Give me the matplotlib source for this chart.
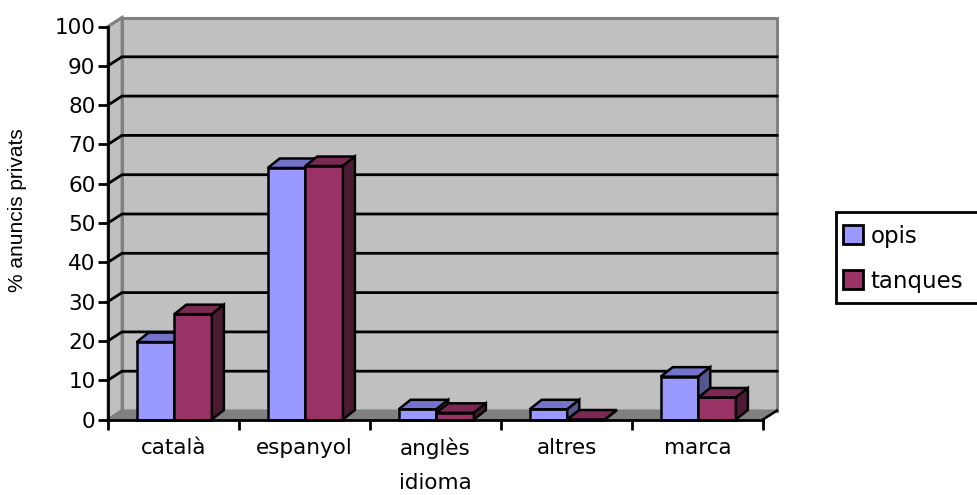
import matplotlib
matplotlib.use("Agg")
import matplotlib.pyplot as plt
from matplotlib.patches import Rectangle, Polygon

# Share of private ads by language
categories = ["català", "espanyol", "anglès", "altres", "marca"]
opis = [19.7, 64.0, 2.6, 2.6, 10.9]
tanques = [26.8, 64.5, 1.7, 0.0, 5.6]
series_names = ["opis", "tanques"]
y_ticks = list(range(0, 101, 10))

W, H = 978, 495
fig = plt.figure(figsize=(W / 100, H / 100), dpi=100)
fig.patch.set_facecolor("white")

# front plane of the 3-D box, in pixels
px_left, px_right, px_bottom, px_top = 108, 763, 419.5, 26.5
ax = fig.add_axes([px_left / W, 1 - px_bottom / H,
                   (px_right - px_left) / W, (px_bottom - px_top) / H])
ax.set_xlim(0, len(categories))
ax.set_ylim(0, 100)
ax.patch.set_visible(False)

# depth offsets (data units)
cat_px = (px_right - px_left) / len(categories)
val_px = (px_bottom - px_top) / 100.0
wall_dx, wall_dy = 14 / cat_px, 9 / val_px
bar_dx, bar_dy = 12 / cat_px, 9.5 / val_px

wall_c = "#C0C0C0"
wall_edge = "#808080"
floor_c = "#808080"
n = len(categories)

# back wall
ax.add_patch(Rectangle((wall_dx, wall_dy), n, 100, facecolor=wall_c,
                       edgecolor=wall_edge, lw=2.2, zorder=1, clip_on=False))
# side wall
ax.add_patch(Polygon([(0, 0), (wall_dx, wall_dy), (wall_dx, 100 + wall_dy), (0, 100)],
                     closed=True, facecolor=wall_c, edgecolor=wall_edge, lw=2.0,
                     zorder=1, clip_on=False))
# floor
ax.add_patch(Polygon([(0, 0), (n, 0), (n + wall_dx, wall_dy), (wall_dx, wall_dy)],
                     closed=True, facecolor=floor_c, edgecolor=wall_edge, lw=1.5,
                     zorder=1.1, clip_on=False))
ax.plot([n, n + wall_dx], [0, wall_dy], color="black", lw=1.8, zorder=1.2, clip_on=False)

# gridlines across the side and back walls
for v in y_ticks[1:-1]:
    ax.plot([0, wall_dx, n + wall_dx], [v, v + wall_dy, v + wall_dy],
            color="black", lw=2.0, zorder=1.5, clip_on=False, solid_joinstyle="miter")
ax.plot([0, wall_dx], [100, 100 + wall_dy], color=wall_edge, lw=2.0, zorder=1.5, clip_on=False)

# 3-D columns
styles = [
    dict(front="#9999FF", top="#7373CC", side="#55558F"),
    dict(front="#993366", top="#7A2952", side="#4D1A33"),
]
offset, bw = 0.219, 0.287
for k, values in enumerate([opis, tanques]):
    st = styles[k]
    for i, v in enumerate(values):
        x0 = i + offset + k * bw
        z = 3 + k
        ax.add_patch(Rectangle((x0, 0), bw, v, facecolor=st["front"], edgecolor="black",
                               lw=1.8, zorder=z, clip_on=False, joinstyle="miter"))
        ax.add_patch(Polygon([(x0, v), (x0 + bw, v), (x0 + bw + bar_dx, v + bar_dy),
                              (x0 + bar_dx, v + bar_dy)], closed=True,
                             facecolor=st["top"], edgecolor="black", lw=1.8,
                             zorder=z, clip_on=False, joinstyle="miter"))
        ax.add_patch(Polygon([(x0 + bw, 0), (x0 + bw + bar_dx, bar_dy),
                              (x0 + bw + bar_dx, v + bar_dy), (x0 + bw, v)], closed=True,
                             facecolor=st["side"], edgecolor="black", lw=1.8,
                             zorder=z, clip_on=False, joinstyle="miter"))

# axes
for s in ["top", "right"]:
    ax.spines[s].set_visible(False)
for s in ["left", "bottom"]:
    ax.spines[s].set_color("black")
    ax.spines[s].set_linewidth(2.0)
    ax.spines[s].set_zorder(10)

ax.set_yticks(y_ticks)
ax.tick_params(axis="y", direction="out", length=7, width=2, pad=2,
               labelsize=15.5, colors="black")
ax.set_xticks(range(n + 1))
ax.set_xticklabels([])
ax.tick_params(axis="x", which="major", direction="out", length=7, width=2)
ax.set_xticks([i + 0.5 for i in range(n)], minor=True)
ax.set_xticklabels(categories, minor=True)
ax.tick_params(axis="x", which="minor", length=0, pad=13, labelsize=15.5)

ax.set_xlabel("idioma", fontsize=15.5)
ax.xaxis.set_label_coords(0.5, (px_bottom - 483) / (px_bottom - px_top), transform=ax.transAxes)
ax.xaxis.label.set_va("center")
ax.set_ylabel("% anuncis privats", fontsize=15, family=["Liberation Sans", "DejaVu Sans"])
ax.yaxis.set_label_coords((18 - px_left) / (px_right - px_left),
                          (px_bottom - 210) / (px_bottom - px_top))
ax.yaxis.label.set_va("center")

# legend
frame = Rectangle((836 / W, 1 - 303 / H), 200 / W, 91 / H, transform=fig.transFigure,
                  facecolor="white", edgecolor="black", lw=2.0, clip_on=False)
fig.patches.append(frame)
handles = [Rectangle((0, 0), 1, 1, facecolor=st["front"], edgecolor="black", lw=2.0)
           for st in styles]
fig.legend(handles, series_names, loc="upper left",
           bbox_to_anchor=(836 / W, 1 - 218 / H), frameon=False, fontsize=16.5,
           handlelength=0.9, handleheight=0.9, handletextpad=0.3,
           labelspacing=0.95, borderpad=0.3, borderaxespad=0)

fig.savefig("out.png", dpi=100)
